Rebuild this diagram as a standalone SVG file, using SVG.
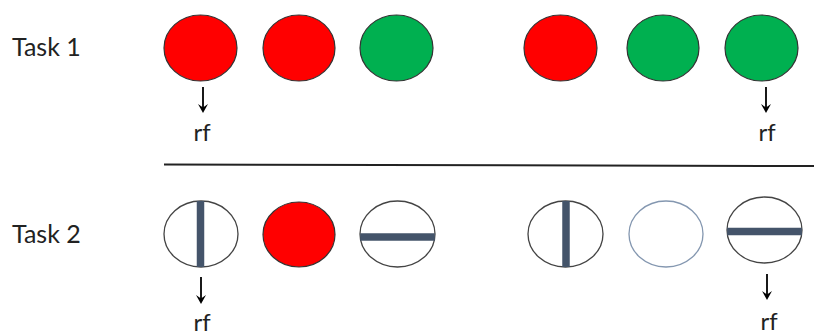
<svg xmlns="http://www.w3.org/2000/svg" width="814" height="336" viewBox="0 0 814 336">
<defs>
<path id="head" d="M-5,-9 L0,0 L5,-9 L0,-5.5 Z" fill="#000"/>
</defs>
<style>
.lbl{font-family:Lato,"Liberation Sans",sans-serif;font-size:25px;fill:#222}
.rf{font-family:Lato,"Liberation Sans",sans-serif;font-size:24px;fill:#222;text-anchor:middle}
.red{fill:#FF0000;stroke:#333;stroke-width:1.2}
.green{fill:#00B050;stroke:#333;stroke-width:1.2}
.open{fill:#fff;stroke:#444;stroke-width:1.3}
.light{fill:#fff;stroke:#8497B0;stroke-width:1.3}
.bar{stroke:#44546A;stroke-width:7.5;fill:none}
.arr{stroke:#000;stroke-width:1.8;fill:none}
</style>
<rect width="814" height="336" fill="#fff"/>
<text class="lbl" x="12" y="56">Task 1</text>
<text class="lbl" x="12" y="243">Task 2</text>
<g id="t1n1"><ellipse class="red" cx="200.5" cy="48" rx="36.5" ry="33"/></g>
<g id="t1n2"><ellipse class="red" cx="299" cy="48" rx="36" ry="33"/></g>
<g id="t1n3"><ellipse class="green" cx="396.5" cy="48" rx="36.5" ry="33"/></g>
<g id="t1n4"><ellipse class="red" cx="560.5" cy="48" rx="36.5" ry="33"/></g>
<g id="t1n5"><ellipse class="green" cx="663" cy="48" rx="36" ry="33"/></g>
<g id="t1n6"><ellipse class="green" cx="761.5" cy="48" rx="36.5" ry="33"/></g>
<g id="t2n1"><ellipse class="open" cx="201" cy="234" rx="37" ry="33"/><line class="bar" x1="200.5" y1="201" x2="200.5" y2="267"/></g>
<g id="t2n2"><ellipse class="red" cx="299" cy="234.5" rx="36" ry="32.5"/></g>
<g id="t2n3"><ellipse class="open" cx="397.5" cy="234" rx="37.5" ry="33"/><line class="bar" x1="360.2" y1="237" x2="434.8" y2="237"/></g>
<g id="t2n4"><ellipse class="open" cx="565.5" cy="234" rx="37.5" ry="33"/><line class="bar" x1="566" y1="201" x2="566" y2="267"/></g>
<g id="t2n5"><ellipse class="light" cx="666" cy="234" rx="37" ry="33"/></g>
<g id="t2n6"><ellipse class="open" cx="764.5" cy="230" rx="37.5" ry="33"/><line class="bar" x1="727.1" y1="231.5" x2="801.9" y2="231.5"/></g>
<g id="connectors">
<line x1="164" y1="164.5" x2="814" y2="166" stroke="#222" stroke-width="2"/>
<line class="arr" x1="203" y1="87" x2="203" y2="108"/><use href="#head" x="203" y="113"/>
<line class="arr" x1="766" y1="87" x2="766" y2="108"/><use href="#head" x="766" y="113"/>
<line class="arr" x1="201" y1="277" x2="201" y2="299"/><use href="#head" x="201" y="304"/>
<line class="arr" x1="767" y1="274" x2="767" y2="295"/><use href="#head" x="767" y="300"/>
</g>
<text class="rf" x="202" y="141">rf</text>
<text class="rf" x="767" y="141">rf</text>
<text class="rf" x="202" y="331">rf</text>
<text class="rf" x="769" y="330">rf</text>
</svg>
